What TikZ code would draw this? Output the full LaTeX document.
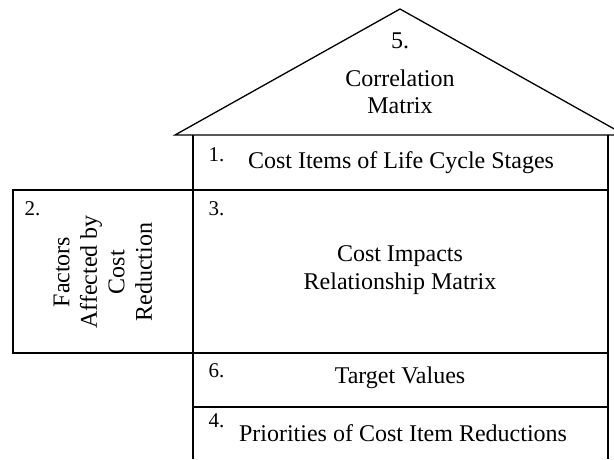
\documentclass[tikz,border=0pt]{standalone}
\usepackage{fontspec}
\setmainfont{Liberation Serif}
\begin{document}
\begin{tikzpicture}[x=1pt,y=-1pt, line width=1.3pt,
  txt/.style={font=\fontsize{24}{27.5}\selectfont, inner sep=0pt, align=center},
  num/.style={font=\fontsize{21}{23}\selectfont, inner sep=0pt, anchor=west}]
\useasboundingbox (0,0) rectangle (614,459);
\clip (0,0) rectangle (614,459);
% roof
\draw (175,135) -- (400,9) -- (625,135) -- cycle;
% columns and rows
\draw (193,135) -- (193,459);
\draw (608,135) -- (608,459);
\draw (13,190) rectangle (193,353);
\draw (193,190) -- (608,190);
\draw (193,353) -- (608,353);
\draw (193,407) -- (608,407);
% texts
\node[txt] (n5) at (400,41) {5.};
\node[txt] (t5) at (400,92) {Correlation\\Matrix};
\node[num] (n1) at (208,155) {1.};
\node[txt] (t1) at (401,163) {Cost Items of Life Cycle Stages};
\node[num] (n2) at (24,209) {2.};
\node[txt, rotate=90] (t2) at (103,272) {Factors\\Affected by\\Cost\\Reduction};
\node[num] (n3) at (208,209) {3.};
\node[txt] (t3) at (400,270) {Cost Impacts\\Relationship Matrix};
\node[num] (n6) at (208,371) {6.};
\node[txt] (t6) at (400,378) {Target Values};
\node[num] (n4) at (208,421) {4.};
\node[txt] (t4) at (403,433) {Priorities of Cost Item Reductions};
\end{tikzpicture}
\end{document}
